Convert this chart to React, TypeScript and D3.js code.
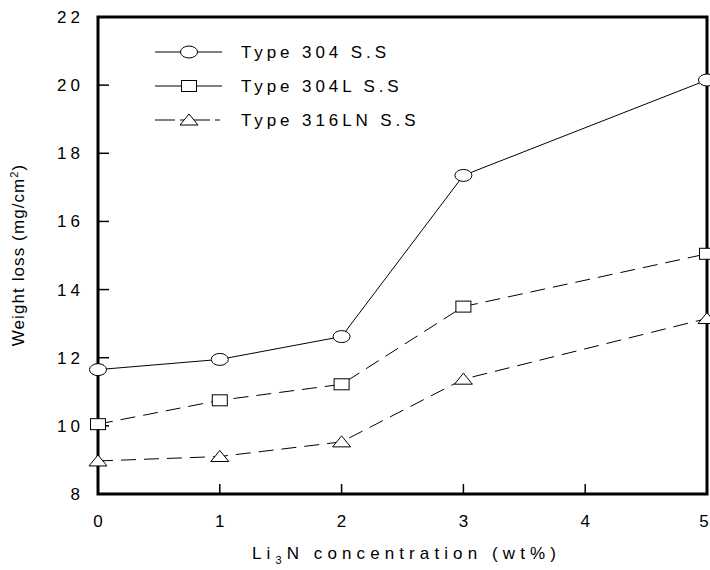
import React from "react";
import * as d3 from "d3";

const concentrations = [0, 1, 2, 3, 5];
const type304 = [11.65, 11.95, 12.62, 17.35, 20.15];
const type304L = [10.05, 10.75, 11.22, 13.5, 15.05];
const type316LN = [8.97, 9.1, 9.53, 11.37, 13.15];
const seriesNames = ["Type 304 S.S", "Type 304L S.S", "Type 316LN S.S"];
const xTicks = [0, 1, 2, 3, 4, 5];
const yTicks = [8, 10, 12, 14, 16, 18, 20, 22];

const W = 710, H = 570;
const L = 98, R = 707, T = 17, B = 494;

export default function App() {
  const x = d3.scaleLinear().domain([0, 5]).range([L, R]);
  const y = d3.scaleLinear().domain([8, 22]).range([B, T]);
  const line = d3.line<[number, number]>().x(d => x(d[0])).y(d => y(d[1]));
  const series = [
    { name: seriesNames[0], vals: type304, dash: "none", marker: "circle" },
    { name: seriesNames[1], vals: type304L, dash: "15 8", marker: "square" },
    { name: seriesNames[2], vals: type316LN, dash: "15 8", marker: "triangle" },
  ];
  const marker = (kind: string, cx: number, cy: number, key: any) => {
    if (kind === "circle") return <ellipse key={key} cx={cx} cy={cy} rx={8.5} ry={6} fill="#fff" stroke="#000" strokeWidth={1} />;
    if (kind === "square") return <rect key={key} x={cx - 7.5} y={cy - 5.5} width={15} height={11} fill="#fff" stroke="#000" strokeWidth={1} />;
    return <path key={key} d={`M${cx - 9},${cy + 5} L${cx + 9},${cy + 5} L${cx},${cy - 6} Z`} fill="#fff" stroke="#000" strokeWidth={1} />;
  };
  const font = "'Liberation Sans', Arial, sans-serif";
  const legendY = [52, 86, 120];
  return (
    <svg width={W} height={H} style={{ position: "absolute", left: 0, top: 0, background: "#fff" }}>
      <rect x={0} y={0} width={W} height={H} fill="#fff" />
      {/* frame */}
      <rect x={L} y={T} width={R - L} height={B - T} fill="none" stroke="#000" strokeWidth={3} />
      {/* y ticks */}
      {yTicks.map(t => (
        <g key={"y" + t}>
          {t !== 8 && t !== 22 && <line x1={L} x2={L + 11} y1={y(t)} y2={y(t)} stroke="#000" strokeWidth={1.5} />}
          <text x={84} y={y(t) + 6} textAnchor="end" fontFamily={font} fontSize={17} letterSpacing={4} fill="#000">{t}</text>
        </g>
      ))}
      {/* x ticks */}
      {xTicks.map(t => (
        <g key={"x" + t}>
          {t !== 0 && t !== 5 && <line x1={x(t)} x2={x(t)} y1={B} y2={B - 10} stroke="#000" strokeWidth={1.5} />}
          <text x={Math.min(x(t), W - 6)} y={527} textAnchor="middle" fontFamily={font} fontSize={17} fill="#000">{t}</text>
        </g>
      ))}
      {/* axis titles */}
      <text x={252} y={559} textAnchor="start" fontFamily={font} fontSize={17} letterSpacing={5.1} fill="#000">
        Li<tspan dy={5} fontSize={11}>3</tspan><tspan dy={-5}>N concentration (wt%)</tspan>
      </text>
      <text transform={`translate(24,255) rotate(-90)`} textAnchor="middle" fontFamily={font} fontSize={17} letterSpacing={1.1} fill="#000">
        Weight loss (mg/cm<tspan dy={-6} fontSize={11}>2</tspan><tspan dy={6}>)</tspan>
      </text>
      {/* series */}
      {series.map((s, i) => (
        <g key={s.name}>
          <path d={line(concentrations.map((c, j) => [c, s.vals[j]]) as [number, number][]) || ""} fill="none" stroke="#000" strokeWidth={1} strokeDasharray={s.dash} />
          {concentrations.map((c, j) => marker(s.marker, x(c), y(s.vals[j]), j))}
        </g>
      ))}
      {/* legend */}
      {series.map((s, i) => (
        <g key={"lg" + i}>
          <line x1={155} x2={222} y1={legendY[i]} y2={legendY[i]} stroke="#000" strokeWidth={1} strokeDasharray={i === 2 ? "20 5 5 5" : "none"} />
          {marker(s.marker, 189, legendY[i], "m")}
          <text x={241} y={legendY[i] + 6} fontFamily={font} fontSize={17} letterSpacing={3.9} fill="#000">{s.name}</text>
        </g>
      ))}
    </svg>
  );
}
